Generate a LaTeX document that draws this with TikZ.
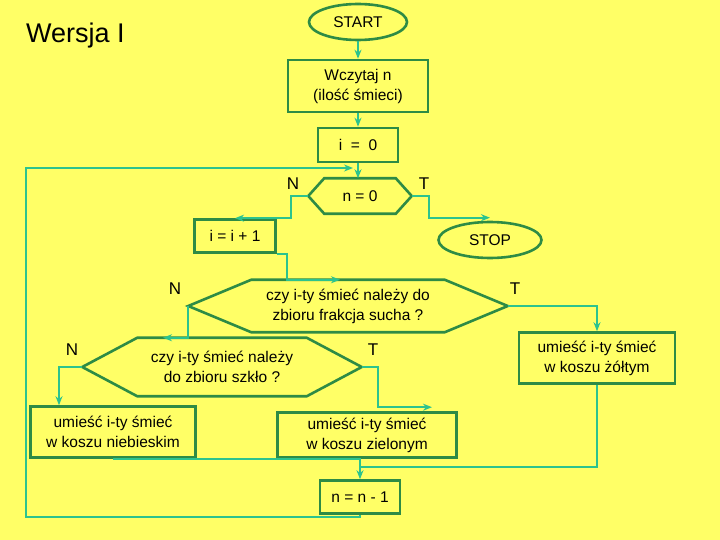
\documentclass[tikz,border=0pt]{standalone}
\usepackage{fontspec}
\setmainfont{Liberation Sans}
\usetikzlibrary{shapes.geometric,arrows.meta}
\definecolor{tlo}{HTML}{FFFF66}
\definecolor{ramka}{HTML}{2E8B45}
\definecolor{linia}{HTML}{2CC38E}
\tikzset{
every picture/.style={
line width=1.5pt
}}

\begin{document}
\begin{tikzpicture}[x=1pt, y=-1pt, >={Stealth[length=9pt,width=7pt]},
block/.style = {rectangle, draw=ramka, line width=2.6pt, align=center, inner sep=0pt, font=\fontsize{15.5}{20}\selectfont},
term/.style = {ellipse, draw=ramka, line width=2.6pt, inner sep=0pt, font=\fontsize{15.5}{20}\selectfont},
hexa/.style = {rectangle, align=center, inner sep=0pt, font=\fontsize{15.5}{20}\selectfont},
hexline/.style = {draw=ramka, line width=2.6pt, line join=miter},
conn/.style = {draw=linia, line width=2.2pt},
lbl/.style = {font=\fontsize{17}{17}\selectfont}]

\useasboundingbox (0,0) rectangle (720,540);
\fill[tlo] (0,0) rectangle (720,540);

\node[anchor=base west, font=\fontsize{27}{27}\selectfont] (tytul) at (22,43) {Wersja I};

\node[term, minimum width=98pt, minimum height=36pt] (start) at (358,22) {START};
\node[block, minimum width=140pt, minimum height=52pt] (wczytaj) at (358,86) {Wczytaj n\\(ilość śmieci)};
\node[block, minimum width=80pt, minimum height=34pt] (init) at (358,145) {i~~=~~0};
\node[hexa, minimum width=102pt, minimum height=34pt] (n0) at (360,196) {n = 0};
\node[block, minimum width=81pt, minimum height=33pt] (inc) at (235,236) {i = i + 1};
\node[term, minimum width=103pt, minimum height=36pt] (stop) at (490,240) {STOP};
\node[hexa, minimum width=318pt, minimum height=51pt] (sucha) at (348,306) {czy i-ty śmieć należy do\\zbioru frakcja sucha ?};
\node[hexa, minimum width=278pt, minimum height=57pt] (szklo) at (222,367) {czy i-ty śmieć należy\\do zbioru szkło ?};
\node[block, minimum width=156pt, minimum height=51pt] (zolty) at (597,358) {umieść i-ty śmieć\\w koszu żółtym};
\node[block, minimum width=165pt, minimum height=51pt] (niebieski) at (113,432) {umieść i-ty śmieć\\w koszu niebieskim};
\node[block, minimum width=179pt, minimum height=45pt] (zielony) at (367,435) {umieść i-ty śmieć\\w koszu zielonym};
\node[block, minimum width=80pt, minimum height=33pt] (dekr) at (360,497) {n = n - 1};

% hexagons
\draw[hexline] ([xshift=16pt]n0.north west) -- ([xshift=-16pt]n0.north east) -- (n0.east)
  -- ([xshift=-16pt]n0.south east) -- ([xshift=16pt]n0.south west) -- (n0.west) -- cycle;
\draw[hexline] ([xshift=63pt]sucha.north west) -- ([xshift=-63pt]sucha.north east) -- (sucha.east)
  -- ([xshift=-63pt]sucha.south east) -- ([xshift=63pt]sucha.south west) -- (sucha.west) -- cycle;
\draw[hexline] ([xshift=55pt]szklo.north west) -- ([xshift=-55pt]szklo.north east) -- (szklo.east)
  -- ([xshift=-55pt]szklo.south east) -- ([xshift=55pt]szklo.south west) -- (szklo.west) -- cycle;

% labels N / T
\node[lbl] (n0N) at (293,184) {N};
\node[lbl] (n0T) at (424,184) {T};
\node[lbl] (suchaN) at (175,289) {N};
\node[lbl] (suchaT) at (515,289) {T};
\node[lbl] (szkloN) at (72,350) {N};
\node[lbl] (szkloT) at (373,350) {T};

% connectors
\coordinate (petlaD) at (26,517);
\coordinate (petlaG) at (26,168);

\draw[conn,->] (start) -- (wczytaj);
\draw[conn,->] (wczytaj) -- (init);
\draw[conn,->] (init) -- (init |- n0.north);
\draw[conn,->] (dekr.south) |- (petlaD) -- (petlaG) -- ([xshift=-5pt]init.south |- petlaG);

\draw[conn,->] (n0.west) -- ++(-17,0) |- (inc.north);
\draw[conn,->] (n0.east) -- ++(17,0) |- ([yshift=3pt]stop.north);
\draw[conn,->] (inc.south east) -- ++(10,0) |- ([xshift=-8pt]sucha.north);

\draw[conn,->] (sucha.west) |- ([xshift=-59pt]szklo.north);
\draw[conn,->] (sucha.east) -| (zolty.north);
\draw[conn,->] (szklo.west) -| ([xshift=-54pt]niebieski.north);
\draw[conn,->] (szklo.east) -- ++(16,0) |- ([xshift=65pt,yshift=4pt]zielony.north);

\draw[conn,->] (niebieski.south) -- (niebieski.south -| dekr.north) -- (dekr.north);
\draw[conn] (zolty.south) |- ([yshift=12pt]dekr.north);
\end{tikzpicture}
\end{document}
